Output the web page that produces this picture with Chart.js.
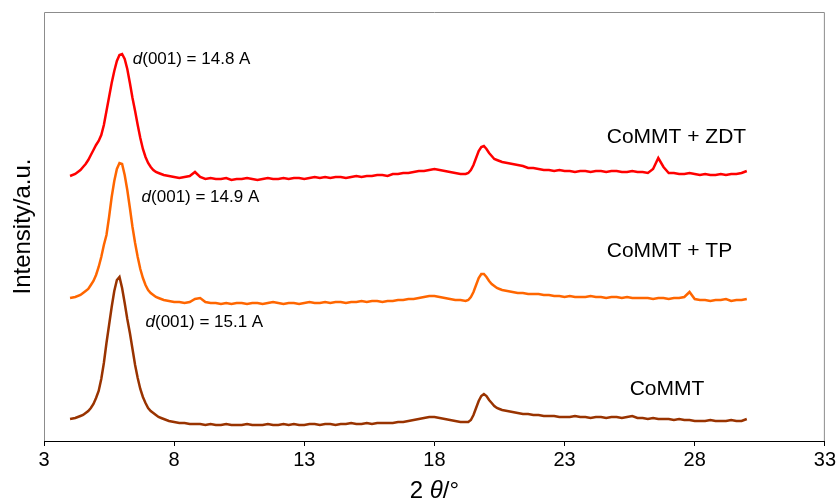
<!DOCTYPE html>
<html>
<head>
<meta charset="utf-8">
<script src="https://cdn.jsdelivr.net/npm/chart.js@4.4.0/dist/chart.umd.min.js"></script>
<style>
  html, body { margin: 0; padding: 0; background: #fff; }
  canvas { display: block; }
</style>
</head>
<body>
<canvas id="xrd" width="838" height="500"></canvas>
<script>
// 2 theta grid (degrees), finer around the 001 peak and the 20 deg band
const twoTheta = [
  4.0, 4.2, 4.4, 4.5, 4.6, 4.7, 4.8, 4.9, 5.0, 5.1, 5.2, 5.3, 5.4, 5.5, 5.6, 5.7, 5.8, 5.9,
  6.0, 6.1, 6.2, 6.3, 6.4, 6.5, 6.6, 6.7, 6.8, 6.9, 7.0, 7.1, 7.2, 7.3, 7.4, 7.5, 7.6,
  7.8, 8.0, 8.2, 8.4, 8.6, 8.8, 9.0, 9.2, 9.4, 9.6, 9.8, 10.0, 10.2, 10.4, 10.6, 10.8,
  11.0, 11.2, 11.4, 11.6, 11.8, 12.0, 12.2, 12.4, 12.6, 12.8, 13.0, 13.2, 13.4, 13.6, 13.8,
  14.0, 14.2, 14.4, 14.6, 14.8, 15.0, 15.2, 15.4, 15.6, 15.8, 16.0, 16.2, 16.4, 16.6, 16.8,
  17.0, 17.2, 17.4, 17.6, 17.8, 18.0, 18.2, 18.4, 18.6, 18.8, 19.0, 19.2,
  19.3, 19.4, 19.5, 19.6, 19.7, 19.8, 19.9, 20.0, 20.1, 20.2, 20.3, 20.4, 20.5, 20.6,
  20.8, 21.0, 21.2, 21.4, 21.6, 21.8, 22.0, 22.2, 22.4, 22.6, 22.8, 23.0, 23.2, 23.4, 23.6,
  23.8, 24.0, 24.2, 24.4, 24.6, 24.8, 25.0, 25.2, 25.4, 25.6, 25.8, 26.0, 26.2, 26.4, 26.6,
  26.8, 27.0, 27.2, 27.4, 27.6, 27.8, 28.0, 28.2, 28.4, 28.6, 28.8, 29.0, 29.2, 29.4, 29.6,
  29.8, 30.0
]

// intensities (a.u., curves already stacked with offsets as in the figure)
const zdt = [
  265, 267, 271, 274, 277, 281, 286, 291, 296, 300, 306, 316, 330, 344, 358, 370, 380, 386,
  387, 382, 372, 358, 343, 330, 316, 303, 292, 284, 278, 274, 271, 269, 268, 267, 266,
  265, 264, 263, 264, 265, 269, 264, 262, 263, 262, 262, 263, 261, 262, 262, 263,
  262, 261, 262, 263, 262, 262, 263, 262, 263, 263, 262, 263, 264, 263, 264,
  263, 264, 264, 263, 264, 265, 264, 265, 265, 266, 266, 265, 267, 267, 268,
  268, 269, 270, 270, 271, 272, 271, 270, 269, 268, 267, 267,
  268, 271, 276, 283, 290, 294, 295, 292, 288, 285, 282, 281, 280, 279,
  278, 277, 276, 275, 273, 273, 272, 271, 271, 270, 271, 270, 270, 269, 270,
  270, 269, 270, 270, 269, 270, 270, 269, 269, 270, 269, 269, 268, 272, 283,
  274, 268, 268, 267, 267, 268, 267, 266, 267, 266, 266, 267, 266, 267, 267,
  268, 270
]

const tp = [
  143, 144, 146, 148, 150, 152, 156, 160, 166, 174, 184, 196, 206, 224, 244, 260, 272, 278,
  277, 266, 251, 233, 214, 198, 184, 172, 163, 156, 151, 148, 146, 144, 143, 142, 141,
  140, 139, 139, 138, 139, 142, 143, 139, 138, 138, 137, 138, 137, 138, 138, 137,
  138, 138, 137, 138, 139, 138, 137, 138, 138, 137, 138, 139, 138, 138, 139,
  138, 139, 139, 138, 139, 139, 140, 139, 140, 140, 139, 140, 140, 141, 141,
  142, 142, 143, 144, 145, 145, 144, 143, 142, 141, 141, 140,
  141, 144, 149, 156, 163, 167, 167, 164, 160, 157, 155, 153, 152, 151,
  150, 149, 148, 148, 147, 147, 147, 146, 146, 145, 145, 144, 145, 144, 144,
  144, 145, 144, 144, 143, 144, 144, 143, 144, 143, 143, 143, 143, 142, 143,
  143, 142, 143, 143, 144, 149, 142, 141, 141, 140, 141, 141, 142, 140, 141,
  141, 142
]

const commt = [
  22, 23, 25, 26, 28, 30, 33, 37, 43, 50, 62, 78, 98, 116, 134, 150, 161, 164,
  153, 138, 122, 108, 92, 76, 63, 52, 44, 38, 33, 30, 28, 26, 24, 23, 22,
  20, 19, 18, 18, 17, 17, 17, 16, 17, 16, 16, 17, 16, 16, 16, 17,
  16, 16, 16, 17, 16, 16, 17, 16, 17, 16, 16, 17, 17, 16, 17,
  17, 16, 17, 17, 18, 17, 17, 18, 17, 18, 18, 18, 18, 19, 19,
  20, 21, 22, 23, 24, 24, 23, 22, 21, 20, 19, 19,
  19, 21, 26, 33, 40, 45, 47, 45, 41, 38, 35, 33, 32, 31,
  30, 29, 28, 27, 27, 26, 26, 25, 25, 25, 24, 24, 24, 25, 24,
  24, 23, 24, 24, 23, 24, 24, 23, 24, 25, 23, 23, 22, 23, 22,
  22, 22, 21, 22, 21, 21, 20, 20, 20, 21, 20, 20, 20, 21, 20,
  20, 22
]

const xTicks = [3, 8, 13, 18, 23, 28, 33]
const seriesNames = ['CoMMT + ZDT', 'CoMMT + TP', 'CoMMT']
const spacings = ['14.8', '14.9', '15.1']

const FONT = '"Liberation Sans", Arial, Helvetica, sans-serif'
const colors = ['#ff0000', '#ff6600', '#993300']

// where the text sits, in data units (x = 2 theta, y = baseline of the text)
const nameAnchors = [[24.62, 298], [24.62, 184], [25.5, 46]]
const spacingAnchors = [[6.41, 377], [6.75, 239], [6.9, 114]]

function points(ys) {
  return twoTheta.map((x, i) => ({ x: x, y: ys[i] }))
}

function drawRuns(ctx, runs, x, y) {
  runs.forEach(r => {
    ctx.font = r.font
    ctx.fillText(r.text, x, y)
    x += ctx.measureText(r.text).width
  })
}

const frame = {
  id: 'frame',
  beforeDatasetsDraw(chart) {
    const { ctx, chartArea: a } = chart
    ctx.save()
    ctx.strokeStyle = '#8c8c8c'
    ctx.lineWidth = 1
    ctx.beginPath()
    ctx.moveTo(a.left + 0.5, a.bottom)
    ctx.lineTo(a.left + 0.5, a.top + 0.5)
    ctx.lineTo(a.right - 0.5, a.top + 0.5)
    ctx.lineTo(a.right - 0.5, a.bottom)
    ctx.stroke()
    ctx.restore()
  },
  afterDraw(chart) {
    const { ctx, chartArea: a, scales } = chart
    const x = scales.x
    const y = scales.y
    ctx.save()
    ctx.fillStyle = '#000'
    ctx.textBaseline = 'alphabetic'
    ctx.textAlign = 'left'

    seriesNames.forEach((name, i) => {
      ctx.font = '21px ' + FONT
      ctx.fillText(name, x.getPixelForValue(nameAnchors[i][0]), y.getPixelForValue(nameAnchors[i][1]))
    })

    spacings.forEach((d, i) => {
      drawRuns(ctx, [
        { text: 'd', font: 'italic 17px ' + FONT },
        { text: '(001) = ' + d + ' A', font: '17px ' + FONT }
      ], x.getPixelForValue(spacingAnchors[i][0]), y.getPixelForValue(spacingAnchors[i][1]))
    })

    // x axis title: 2 theta/deg
    const parts = [
      { text: '2 ', font: '24px ' + FONT },
      { text: 'θ', font: 'italic 24px ' + FONT },
      { text: '/°', font: '24px ' + FONT }
    ]
    let w = 0
    parts.forEach(p => { ctx.font = p.font; w += ctx.measureText(p.text).width })
    drawRuns(ctx, parts, (a.left + a.right) / 2 - w / 2, 498)

    // y axis title
    ctx.translate(30, (a.top + a.bottom) / 2)
    ctx.rotate(-Math.PI / 2)
    ctx.textAlign = 'center'
    ctx.font = '24px ' + FONT
    ctx.fillText('Intensity/a.u.', 0, 0)
    ctx.restore()
  }
}

new Chart(document.getElementById('xrd'), {
  type: 'line',
  data: {
    datasets: [zdt, tp, commt].map((ys, i) => ({
      label: seriesNames[i],
      data: points(ys),
      borderColor: colors[i],
      borderWidth: 2.5,
      pointRadius: 0,
      tension: 0,
      fill: false
    }))
  },
  options: {
    responsive: false,
    animation: false,
    layout: { padding: { left: 44, right: 10, top: 12, bottom: 0 } },
    plugins: {
      legend: { display: false },
      tooltip: { enabled: false }
    },
    scales: {
      x: {
        type: 'linear',
        min: 3,
        max: 33,
        afterBuildTicks(scale) {
          scale.ticks = xTicks.map(v => ({ value: v }))
        },
        afterFit(scale) {
          scale.height = 59
        },
        grid: { drawOnChartArea: false, drawTicks: true, tickLength: 5, color: '#000' },
        border: { display: true, color: '#000', width: 1 },
        ticks: {
          color: '#000',
          padding: 2,
          maxRotation: 0,
          font: { family: FONT, size: 20 }
        }
      },
      y: {
        display: false,
        min: 0,
        max: 429
      }
    }
  },
  plugins: [frame]
})
</script>
</body>
</html>
